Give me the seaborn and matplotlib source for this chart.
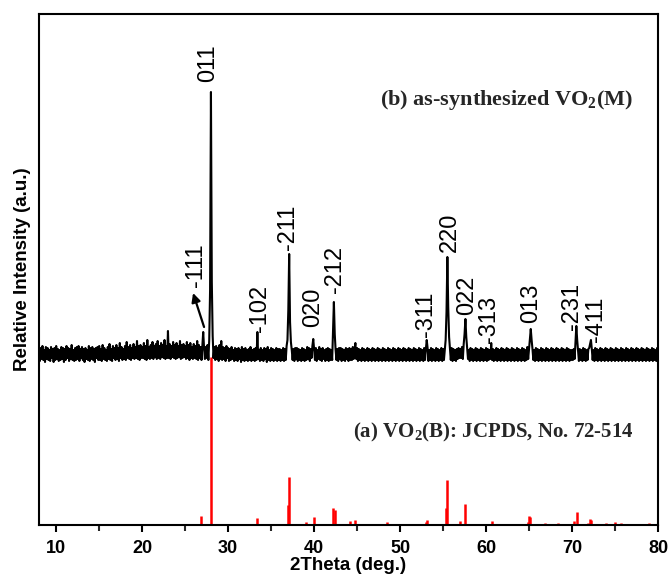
import numpy as np
import seaborn as sns
import matplotlib.pyplot as plt
from matplotlib.ticker import MultipleLocator

# ---------------- data ----------------
# 2theta scan grid (deg), step 0.1 from 8.0 to 80.0
theta = np.round(np.arange(8.0, 80.0001, 0.1), 1)

# (b) as-synthesized VO2(M): intensity above baseline, one row per degree
pattern_rows = [
    [5, -7, 6, -5, 8, -6, 4, -8, 7, -5],          # 8
    [6, -6, 4, -7, 7, -4, 5, -8, 6, -6],          # 9
    [8, -5, 5, -7, 4, -6, 7, -5, 6, -8],          # 10
    [5, -6, 8, -4, 6, -7, 5, -5, 9, -6],          # 11
    [4, -7, 6, -6, 7, -5, 8, -7, 5, -4],          # 12
    [7, -6, 5, -8, 6, -5, 4, -6, 8, -7],          # 13
    [6, -5, 7, -6, 5, -8, 6, -4, 7, -6],          # 14
    [8, -6, 5, -7, 9, -5, 6, -6, 4, -7],          # 15
    [7, -5, 10, -6, 5, -7, 8, -4, 6, -6],         # 16
    [9, -5, 6, -7, 11, -4, 7, -6, 5, -5],         # 17
    [8, -6, 12, -4, 7, -5, 9, -6, 6, -4],         # 18
    [10, -5, 7, -4, 13, -5, 8, -6, 9, -4],        # 19
    [7, -4, 11, -5, 8, -6, 14, -4, 7, -5],        # 20
    [9, -4, 12, -5, 8, -3, 10, -5, 13, -4],       # 21
    [8, -5, 11, -3, 9, -4, 14, -5, 8, -4],        # 22
    [23, -4, 10, -5, 8, -3, 12, -4, 9, -5],       # 23
    [11, -4, 8, -3, 13, -5, 9, -4, 10, -3],       # 24
    [8, -5, 12, -4, 9, -6, 11, -4, 7, -5],        # 25
    [10, -4, 8, -5, 13, -6, 9, -4, 7, -6],        # 26
    [8, 22, 6, -5, 7, -4, 9, -6, 14, 64],         # 27
    [262, 72, 18, -4, 7, -6, 8, -5, 6, -7],       # 28
    [9, -5, 13, -6, 7, -5, 6, -7, 8, -4],         # 29
    [6, -7, 5, -6, 7, -5, 4, -7, 6, -6],          # 30
    [5, -7, 6, -5, 4, -8, 7, -6, 5, -7],          # 31
    [6, -6, 4, -7, 5, -6, 7, -7, 4, -6],          # 32
    [5, -7, 6, -6, 22, -5, 4, -7, 6, -6],         # 33
    [4, -7, 6, -5, 5, -8, 7, -6, 4, -7],          # 34
    [6, -6, 5, -7, 4, -6, 6, -7, 5, -6],          # 35
    [5, -7, 4, -6, 6, -7, 5, -6, 8, 14],          # 36
    [44, 100, 32, 12, 4, -6, 5, -7, 6, -5],       # 37
    [6, -7, 5, -6, 4, -7, 6, -6, 5, -7],          # 38
    [4, -6, 7, -5, 6, -7, 5, -4, 8, 15],          # 39
    [5, -6, 6, -7, 4, -5, 7, -6, 5, -7],          # 40
    [6, -5, 4, -7, 5, -6, 6, -7, 5, -6],          # 41
    [4, -6, 24, 52, 20, 4, -6, 5, -7, 6],         # 42
    [-5, 6, -7, 5, -6, 4, -7, 6, -5, 5],          # 43
    [-7, 6, -6, 5, -6, 7, -5, 4, 11, -5],         # 44
    [6, -7, 5, -6, 4, -7, 6, -6, 5, -7],          # 45
    [4, -6, 6, -7, 5, -6, 4, -7, 6, -6],          # 46
    [5, -7, 4, -6, 6, -7, 5, -6, 4, -7],          # 47
    [6, -6, 5, -7, 4, -6, 6, -7, 5, -6],          # 48
    [4, -7, 6, -6, 5, -7, 4, -6, 6, -7],          # 49
    [5, -6, 4, -7, 6, -6, 5, -7, 4, -6],          # 50
    [6, -7, 5, -6, 4, -7, 6, -6, 5, -7],          # 51
    [4, -6, 6, -7, 5, -6, 4, -7, 6, -6],          # 52
    [5, 14, 6, -7, 4, -6, 6, -7, 5, -6],          # 53
    [4, -7, 6, -6, 5, -7, 4, -6, 6, -7],          # 54
    [5, -6, 4, 14, 42, 97, 47, 17, 5, -6],        # 55
    [6, -7, 5, -6, 4, -7, 5, -5, 6, -4],          # 56
    [5, -4, 7, -5, 10, 20, 35, 17, 6, -5],        # 57
    [4, -7, 6, -6, 5, -7, 4, -6, 6, -7],          # 58
    [5, -6, 4, -7, 6, -6, 5, -7, 4, -6],          # 59
    [6, -7, 5, -6, 4, -5, 11, -6, 5, -7],         # 60
    [4, -6, 6, -7, 5, -6, 4, -7, 6, -6],          # 61
    [5, -7, 4, -6, 6, -7, 5, -6, 4, -7],          # 62
    [6, -6, 5, -7, 4, -6, 6, -7, 5, -6],          # 63
    [4, -7, 6, -6, 5, -7, 4, -6, 7, -5],          # 64
    [5, 16, 25, 14, 5, -6, 4, -7, 6, -6],         # 65
    [5, -7, 4, -6, 6, -7, 5, -6, 4, -7],          # 66
    [6, -6, 5, -7, 4, -6, 6, -7, 5, -6],          # 67
    [4, -7, 6, -6, 5, -7, 4, -6, 6, -7],          # 68
    [5, -6, 4, -7, 6, -6, 5, -7, 4, -6],          # 69
    [4, -6, 5, -5, 12, 28, 14, 4, -7, 5],         # 70
    [-6, 4, -7, 6, -6, 5, -7, 4, -6, 5],          # 71
    [6, 10, 14, 5, -6, 4, -7, 6, -6, 5],          # 72
    [-7, 4, -6, 6, -7, 5, -6, 4, -7, 6],          # 73
    [-6, 5, -7, 4, -6, 6, -7, 5, -6, 4],          # 74
    [-7, 6, -6, 5, -7, 4, -6, 6, -7, 5],          # 75
    [-6, 4, -7, 6, -6, 5, -7, 4, -6, 6],          # 76
    [-7, 5, -6, 4, -7, 6, -6, 5, -7, 4],          # 77
    [-6, 6, -7, 5, -6, 4, -7, 6, -6, 5],          # 78
    [-7, 4, -6, 6, -7, 5, -6, 4, -7, 6],          # 79
    [-5],                                         # 80
]
baseline = 171

# (a) VO2(B) JCPDS 72-514 reference sticks
stick_pos = [18.4, 26.9, 27.95, 33.4, 36.95, 37.1, 39.1, 39.95, 42.2, 42.45,
             44.2, 44.8, 48.5, 51.4, 53.0, 53.15, 55.3, 55.45, 56.95, 57.6,
             60.7, 64.85, 65.0, 65.15, 66.85, 68.4, 70.25, 70.55, 71.8, 72.05,
             72.25, 73.9, 74.5, 75.0, 75.7, 78.9]
stick_int = [1, 9, 168, 7, 20, 48, 3, 8, 17, 15,
             4, 5, 3, 1, 3, 5, 17, 45, 4, 21,
             4, 3, 9, 8, 2, 2, 4, 13, 2, 6,
             5, 2, 1, 3, 2, 2]

# peak labels (hkl) with label anchor (2theta, bottom of text)
hkl_text = ["-111", "011", "-102", "-211", "020", "-212", "-311", "220", "022", "-313", "013", "-231", "-411"]
hkl_x = [26.27, 27.63, 33.71, 36.97, 39.87, 42.43, 53.0, 55.8, 57.77, 60.3, 65.2, 69.97, 72.76]
hkl_y = [238, 443, 193, 275, 198, 232, 188, 273, 210, 182, 202, 195, 183]

# ---------------- plot ----------------
sns.set_theme(style="ticks")
plt.rcParams['font.family'] = ['Liberation Sans', 'DejaVu Sans']
plt.rcParams['mathtext.fontset'] = 'custom'
plt.rcParams['mathtext.rm'] = 'Liberation Serif:bold'

fig = plt.figure(figsize=(6.7, 5.79), dpi=100)
ax = fig.add_axes([39 / 670, 54 / 579, 619 / 670, 511 / 579])

intensity = np.concatenate([np.array(r, dtype=float) for r in pattern_rows]) + baseline

ax.vlines(stick_pos, 0, stick_int, colors='#ff0000', lw=1.8, zorder=1)
sns.lineplot(x=theta, y=intensity, color='black', lw=1.5, ax=ax,
             estimator=None, sort=False, zorder=2)

for t, x, y in zip(hkl_text, hkl_x, hkl_y):
    ax.text(x, y, t, rotation=90, ha='center', va='bottom', fontsize=17,
            family=['Liberation Sans', 'DejaVu Sans'], color='black')

ax.annotate('', xy=(25.92, 232), xytext=(27.2, 198),
            arrowprops=dict(arrowstyle='-|>', color='black', lw=1.6, mutation_scale=13,
                            shrinkA=0, shrinkB=0))

ax.text(77.1, 425, r'(b) as-synthesized VO$_\mathregular{2}$(M)', ha='right', va='center',
        fontsize=16, fontweight='bold', family=['Liberation Serif', 'DejaVu Serif'])
ax.text(77.2, 93, r'(a) VO$_\mathregular{2}$(B): JCPDS, No. 72-514', ha='right', va='center',
        fontsize=15, fontweight='bold', family=['Liberation Serif', 'DejaVu Serif'])

ax.set_xlim(8, 80)
ax.set_ylim(0, 511)
ax.set_yticks([])
ax.set_xticks(range(10, 81, 10))
ax.xaxis.set_minor_locator(MultipleLocator(5))
ax.tick_params(axis='x', which='major', length=5, width=1.5, direction='out',
               labelsize=13, pad=6, colors='black')
ax.tick_params(axis='x', which='minor', length=4, width=1.5, direction='out')
for lab in ax.get_xticklabels():
    lab.set_fontweight('bold')
for sp in ax.spines.values():
    sp.set_linewidth(1.5)
    sp.set_color('black')

ax.set_xlabel('2Theta (deg.)', fontsize=13.5, fontweight='bold', labelpad=0, color='black')
ax.set_ylabel('Relative Intensity (a.u.)', fontsize=13.5, fontweight='bold', labelpad=6, color='black')
ax.set_facecolor('white')
fig.patch.set_facecolor('white')

fig.savefig('out.png', dpi=100)
